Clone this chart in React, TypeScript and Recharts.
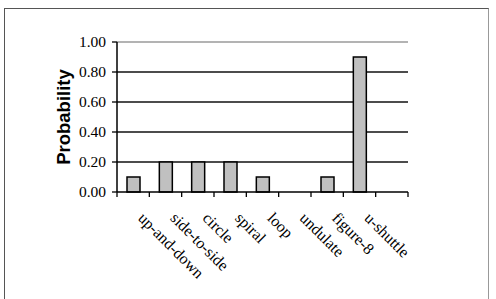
import React from 'react';
import { BarChart, Bar, XAxis, YAxis, CartesianGrid, ReferenceLine } from 'recharts';

const categories = ['up-and-down', 'side-to-side', 'circle', 'spiral', 'loop', 'undulate', 'figure-8', 'u-shuttle', ''];
const probability: (number | null)[] = [0.1, 0.2, 0.2, 0.2, 0.1, 0, 0.1, 0.9, null];
const yTicks = [0, 0.2, 0.4, 0.6, 0.8, 1.0];
const gridValues = [0.2, 0.4, 0.6, 0.8];

const data = categories.map((c, i) => ({ name: c, value: probability[i] }));

const TICK_SIZE = 5;
const TICK_MARGIN = 2;
const SERIF = "'Liberation Serif', 'Times New Roman', serif";

const XTick = (props: any) => {
  const { x, y, payload, index, visibleTicksCount } = props;
  const half = payload && typeof payload.offset === 'number' ? payload.offset : 0;
  const axisY = y - TICK_SIZE - TICK_MARGIN;
  const tx = x + 4;
  const ty = y + 20;
  const isLast = index === categories.length - 1 || index === (visibleTicksCount ?? 0) - 1;
  return (
    <g>
      <line x1={x - half} x2={x - half} y1={axisY} y2={axisY + TICK_SIZE} stroke="#000" strokeWidth={1.3} />
      {isLast && (
        <line x1={x + half} x2={x + half} y1={axisY} y2={axisY + TICK_SIZE} stroke="#000" strokeWidth={1.3} />
      )}
      <text
        x={tx}
        y={ty}
        transform={`rotate(45, ${tx}, ${ty})`}
        style={{ fontFamily: SERIF }}
        fontSize={16}
        fill="#000"
        textAnchor="start"
      >
        {payload.value}
      </text>
    </g>
  );
};

const YTick = (props: any) => {
  const { x, y, payload } = props;
  return (
    <text x={x} y={y} dy={5} textAnchor="end" style={{ fontFamily: SERIF }} fontSize={15.5} fill="#000">
      {Number(payload.value).toFixed(2)}
    </text>
  );
};

export default function App() {
  return (
    <div style={{ position: 'absolute', left: 0, top: 0, width: 496, height: 299, background: '#fff' }}>
      <div
        style={{
          position: 'absolute',
          left: 4,
          top: 8,
          width: 485,
          height: 300,
          borderLeft: '1.5px solid #555',
          borderTop: '1.5px solid #555',
          borderRight: '1px solid #999',
          boxSizing: 'border-box',
        }}
      />
      <div style={{ position: 'absolute', left: 0, top: 0 }}>
        <BarChart
          width={496}
          height={299}
          data={data}
          margin={{ top: 42, right: 88, bottom: 0, left: 0 }}
          barSize={13}
        >
          <CartesianGrid horizontal vertical={false} horizontalValues={gridValues} stroke="#111" strokeWidth={1.3} />
          <ReferenceLine y={1} stroke="#9a9a9a" strokeWidth={1.3} />
          <XAxis
            dataKey="name"
            interval={0}
            tickSize={TICK_SIZE}
            tickMargin={TICK_MARGIN}
            tickLine={{ stroke: 'none' }}
            axisLine={{ stroke: '#000', strokeWidth: 1.5 }}
            tick={<XTick />}
            height={107}
          />
          <YAxis
            domain={[0, 1]}
            ticks={yTicks}
            interval={0}
            width={117}
            tickSize={5}
            tickMargin={6}
            axisLine={{ stroke: '#000', strokeWidth: 1.5 }}
            tickLine={{ stroke: '#000', strokeWidth: 1.3 }}
            tick={<YTick />}
            label={{
              value: 'Probability',
              angle: -90,
              position: 'insideLeft',
              offset: 63,
              style: { textAnchor: 'middle', fontFamily: "'Liberation Sans', Arial, sans-serif", fontWeight: 'bold', fontSize: 18.5, fill: '#000' },
            }}
          />
          <YAxis
            yAxisId="right"
            orientation="right"
            domain={[0, 1]}
            width={0}
            tick={false}
            tickLine={false}
            axisLine={{ stroke: '#9a9a9a', strokeWidth: 1.3 }}
          />
          <Bar dataKey="value" fill="#c0c0c0" stroke="#000" strokeWidth={1.5} isAnimationActive={false} />
        </BarChart>
      </div>
    </div>
  );
}
